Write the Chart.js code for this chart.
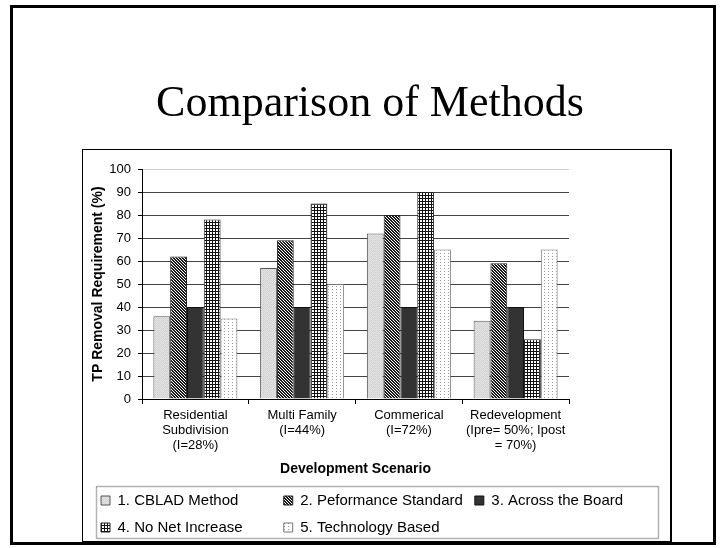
<!DOCTYPE html>
<html>
<head>
<meta charset="utf-8">
<script src="https://cdn.jsdelivr.net/npm/chart.js@4/dist/chart.umd.min.js"></script>
<style>
  html, body { margin: 0; padding: 0; background: #fff; width: 724px; height: 548px; overflow: hidden; }
  #c { position: absolute; left: 83px; top: 150px; }
  #title { position: absolute; left: 16px; top: 80px; width: 708px; text-align: center;
           font-family: "Liberation Serif", "Times New Roman", serif; font-size: 44px; line-height: 44px; color: #000; }
  #box { position: absolute; left: 82px; top: 149px; width: 587px; height: 391px;
         border: 1px solid #000; border-right-width: 2px; }
  #frame { position: absolute; left: 10px; top: 5px; width: 700px; height: 534px; border: 3px solid #000; }
</style>
</head>
<body>
<canvas id="c" width="587" height="396"></canvas>
<div id="box"></div>
<div id="frame"></div>
<div id="title">Comparison of Methods</div>
<script>
// ---- data ----
const categories = [
  ['Residential', 'Subdivision', '(I=28%)'],
  ['Multi Family', '(I=44%)'],
  ['Commerical', '(I=72%)'],
  ['Redevelopment', '(Ipre= 50%; Ipost', '= 70%)']
];
const seriesNames = ['1. CBLAD Method', '2. Peformance Standard', '3. Across the Board', '4. No Net Increase', '5. Technology Based'];
const cbladMethod        = [36, 57, 72, 34];
const performanceStd     = [62, 69, 80, 59];
const acrossTheBoard     = [40, 40, 40, 40];
const noNetIncrease      = [78, 85, 90, 26];
const technologyBased    = [35, 50, 65, 65];
const yMin = 0, yMax = 100, yStep = 10;
const xTitle = 'Development Scenario';
const yTitle = 'TP Removal Requirement (%)';

// ---- patterns ----
const canvas = document.getElementById('c');
const mainCtx = canvas.getContext('2d');
function makePattern(w, h, paint) {
  const t = document.createElement('canvas');
  t.width = w; t.height = h;
  const g = t.getContext('2d');
  const px = (x, y, col) => { g.fillStyle = col; g.fillRect(x, y, 1, 1); };
  paint(g, px, w, h);
  return mainCtx.createPattern(t, 'repeat');
}
const pat1 = makePattern(2, 2, (g, px, w, h) => { g.fillStyle = '#e4e4e4'; g.fillRect(0, 0, w, h); px(0, 0, '#cdcdcd'); px(1, 1, '#d6d6d6'); });
const pat2 = makePattern(3, 3, (g, px, w, h) => {
  g.fillStyle = '#fff'; g.fillRect(0, 0, w, h);
  for (let x = 0; x < w; x++) for (let y = 0; y < h; y++) if ((((x - y) % 3) + 3) % 3 < 2) px(x, y, '#1a1a1a');
});
const pat4 = makePattern(3, 3, (g, px, w, h) => {
  g.fillStyle = '#fff'; g.fillRect(0, 0, w, h);
  for (let i = 0; i < 3; i++) { px(i, 0, '#111'); px(0, i, '#111'); }
});
const pat5 = makePattern(4, 3, (g, px, w, h) => { g.fillStyle = '#fff'; g.fillRect(0, 0, w, h); px(1, 1, '#9a9a9a'); });

const FONT = '"Liberation Sans", Arial, sans-serif';
const legendFontSize = 15;
const legendColumnText = [158.5, 165.5, null, 158.5, null];

function padLabel(text, target) {
  if (!target) return text;
  mainCtx.save();
  mainCtx.font = legendFontSize + 'px ' + FONT;
  let t = text;
  while (mainCtx.measureText(t + ' ').width <= target) t += ' ';
  mainCtx.restore();
  return t;
}

const legendFrame = {
  id: 'legendFrame',
  afterDraw(chart) {
    const lg = chart.legend;
    const c = chart.ctx;
    c.save();
    c.strokeStyle = '#666';
    c.lineWidth = 1.5;
    c.setLineDash([1, 1]);
    c.strokeRect(lg.left + 7.5, lg.top + 5.5, 562, 52);
    c.restore();
  }
};

const data = {
  labels: categories,
  datasets: [
    { label: seriesNames[0], data: cbladMethod, backgroundColor: pat1, borderColor: '#555', borderWidth: 1 },
    { label: seriesNames[1], data: performanceStd, backgroundColor: pat2, borderColor: '#222', borderWidth: 1 },
    { label: seriesNames[2], data: acrossTheBoard, backgroundColor: '#333333', borderColor: '#111', borderWidth: 1 },
    { label: seriesNames[3], data: noNetIncrease, backgroundColor: pat4, borderColor: '#222', borderWidth: 1 },
    { label: seriesNames[4], data: technologyBased, backgroundColor: pat5, borderColor: '#777', borderWidth: 1 }
  ]
};

new Chart(canvas, {
  type: 'bar',
  data,
  plugins: [legendFrame],
  options: {
    responsive: false,
    animation: false,
    devicePixelRatio: 1,
    categoryPercentage: 0.787,
    barPercentage: 1.0,
    layout: { padding: { left: 6, right: 0, top: 19, bottom: 1 } },
    scales: {
      x: {
        type: 'category',
        offset: true,
        grid: { offset: true, drawOnChartArea: false, drawTicks: true, tickLength: 5, tickColor: '#000' },
        border: { display: true, color: '#000', width: 1 },
        ticks: { color: '#000', font: { family: FONT, size: 13, lineHeight: 1.15 }, padding: 4, maxRotation: 0, autoSkip: false },
        title: { display: true, text: xTitle, color: '#000', font: { family: FONT, size: 14, weight: 'bold', lineHeight: 1.2 }, padding: { top: 0, bottom: 3 } },
        afterFit(s) { s.height = 82; }
      },
      y: {
        min: yMin, max: yMax,
        position: 'left',
        grid: {
          color: (ctx) => (ctx.tick && ctx.tick.value === yMax ? '#cfcfcf' : '#444'),
          lineWidth: 1, drawTicks: true, tickLength: 4, tickColor: '#000'
        },
        border: { display: true, color: '#000', width: 1 },
        ticks: { stepSize: yStep, color: '#000', font: { family: FONT, size: 13 }, padding: 7 },
        title: { display: true, text: yTitle, color: '#000', font: { family: FONT, size: 14, weight: 'bold', lineHeight: 1 }, padding: { top: 2, bottom: 0 } },
        afterFit(s) { s.width = 53; }
      },
      yR: {
        type: 'linear',
        position: 'right',
        display: true,
        grid: { display: false },
        border: { display: false },
        ticks: { display: false },
        afterFit(s) { s.width = 101; }
      }
    },
    plugins: {
      tooltip: { enabled: false },
      title: { display: false },
      legend: {
        display: true,
        position: 'bottom',
        align: 'start',
        labels: {
          color: '#000',
          font: { family: FONT, size: legendFontSize },
          boxWidth: 9,
          boxHeight: 9,
          padding: 12,
          generateLabels(chart) {
            const items = Chart.defaults.plugins.legend.labels.generateLabels(chart);
            items.forEach((it, i) => { it.text = padLabel(it.text, legendColumnText[i] ? legendColumnText[i] - 1 : null); });
            return items;
          }
        }
      }
    }
  }
});
</script>
</body>
</html>
